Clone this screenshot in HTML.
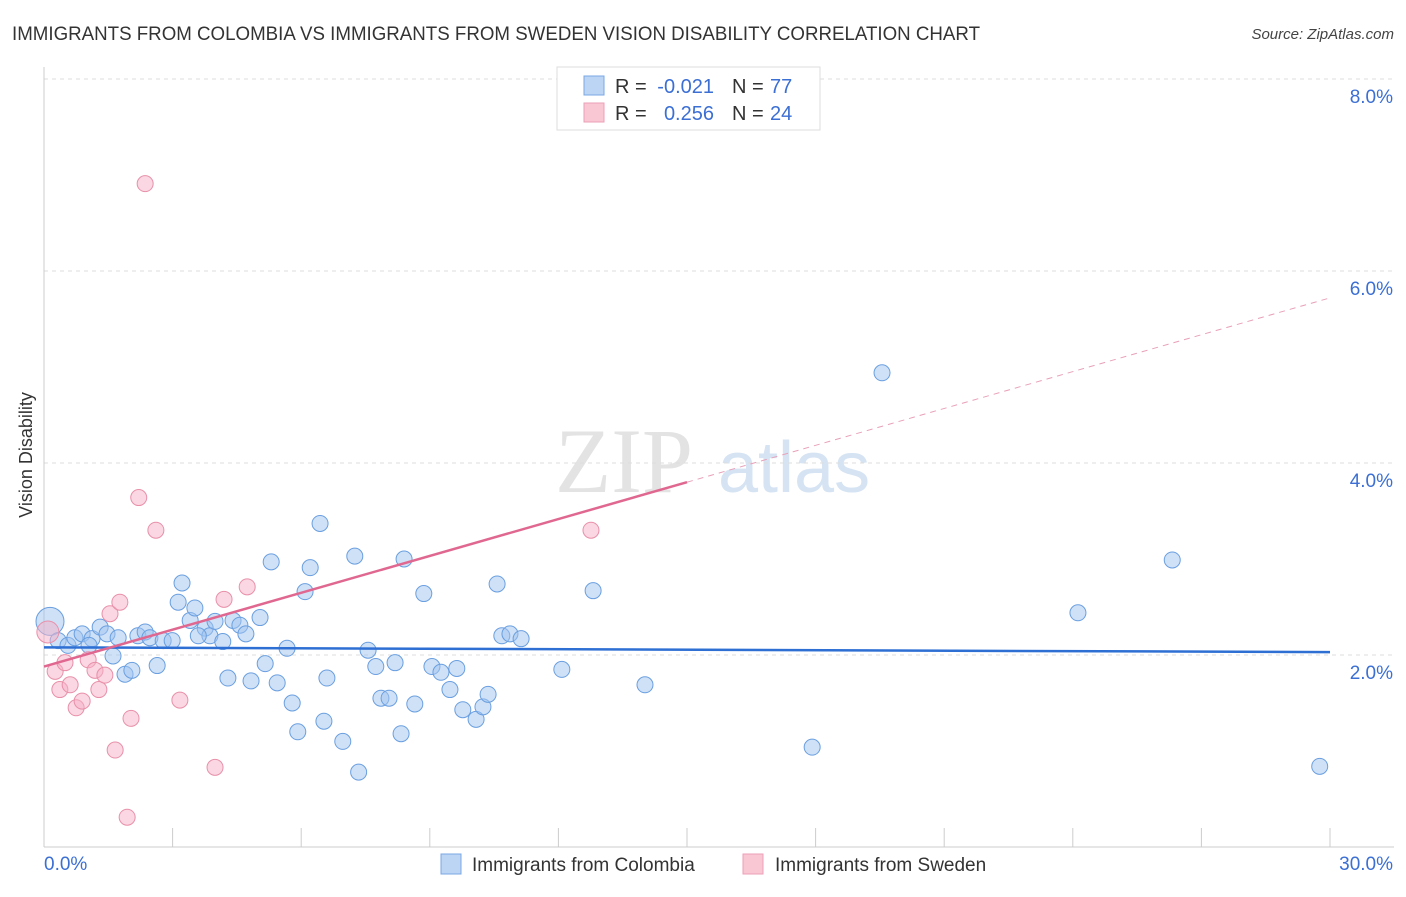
<!DOCTYPE html>
<html><head><meta charset="utf-8"><style>
body{margin:0;background:#fff;font-family:"Liberation Sans",sans-serif}
</style></head><body>
<svg id="c" width="1406" height="892" xmlns="http://www.w3.org/2000/svg">
<text x="12" y="40" font-size="19" fill="#333" textLength="968" lengthAdjust="spacingAndGlyphs">IMMIGRANTS FROM COLOMBIA VS IMMIGRANTS FROM SWEDEN VISION DISABILITY CORRELATION CHART</text>
<text x="1394" y="39" font-size="15" fill="#444" text-anchor="end" font-style="italic">Source: ZipAtlas.com</text>
<text x="32" y="455" font-size="18" fill="#333" text-anchor="middle" transform="rotate(-90 32 455)">Vision Disability</text>
<g><text x="555" y="492" font-size="92" fill="#e3e3e3" font-family="Liberation Serif,serif">ZIP</text><text x="718" y="492" font-size="72" fill="#d5e3f3">atlas</text></g>
<g id="grid"></g><g id="pts"></g><g id="trend"></g>
<g>
<rect x="557" y="67" width="263" height="63" fill="#fff" stroke="#ddd"/>
<rect x="584" y="76" width="20" height="19" fill="#bcd5f5" stroke="#7aa8e3"/>
<rect x="584" y="103" width="20" height="19" fill="#f9c6d4" stroke="#eba0b7"/>
<text x="615" y="93" font-size="20" fill="#333">R =</text>
<text x="714" y="93" font-size="20" fill="#3b6fd4" text-anchor="end">-0.021</text>
<text x="732" y="93" font-size="20" fill="#333">N =</text>
<text x="770" y="93" font-size="20" fill="#3b6fd4">77</text>
<text x="615" y="120" font-size="20" fill="#333">R =</text>
<text x="714" y="120" font-size="20" fill="#3b6fd4" text-anchor="end">0.256</text>
<text x="732" y="120" font-size="20" fill="#333">N =</text>
<text x="770" y="120" font-size="20" fill="#3b6fd4">24</text>
</g>
<g>
<rect x="441" y="854" width="20" height="20" fill="#bcd5f5" stroke="#7aa8e3"/>
<text x="472" y="871" font-size="19" fill="#333">Immigrants from Colombia</text>
<rect x="743" y="854" width="20" height="20" fill="#f9c6d4" stroke="#eba0b7"/>
<text x="775" y="871" font-size="19" fill="#333">Immigrants from Sweden</text>
</g>
</svg>
<script>
const yTicks=[2,4,6,8];
const xTickLabels=["0.0%","30.0%"];
const blueX=[0.14,0.33,0.56,0.72,0.89,1.12,1.31,1.47,1.61,1.73,1.89,2.05,2.19,2.36,2.47,2.64,2.78,2.99,3.13,3.22,3.41,3.52,3.76,3.87,3.99,4.17,4.29,4.41,4.57,4.71,4.83,5.04,5.16,5.3,5.44,5.67,5.79,5.92,6.09,6.21,6.44,6.53,6.6,6.97,7.25,7.34,7.56,7.74,7.86,8.05,8.19,8.33,8.4,8.65,8.86,9.05,9.26,9.47,9.63,9.77,10.08,10.24,10.36,10.57,10.68,10.87,11.13,12.08,12.81,14.02,17.92,19.55,24.12,26.32,29.76,1.05,3.6];
const blueY=[2.35,2.15,2.1,2.18,2.22,2.17,2.29,2.22,1.99,2.18,1.8,1.84,2.2,2.24,2.18,1.89,2.15,2.15,2.55,2.75,2.36,2.49,2.28,2.2,2.35,2.14,1.76,2.36,2.31,2.22,1.73,2.39,1.91,2.97,1.71,2.07,1.5,1.2,2.66,2.91,3.37,1.31,1.76,1.1,3.03,0.78,2.05,1.88,1.55,1.55,1.92,1.18,3,1.49,2.64,1.88,1.82,1.64,1.86,1.43,1.33,1.46,1.59,2.74,2.2,2.22,2.17,1.85,2.67,1.69,1.04,4.94,2.44,2.99,0.84,2.1,2.2];
const pinkX=[0.09,0.26,0.37,0.49,0.61,0.75,0.89,1.03,1.19,1.28,1.42,1.54,1.77,1.66,2.03,2.21,2.36,2.61,3.17,3.99,4.2,4.74,1.94,12.76];
const pinkY=[2.24,1.83,1.64,1.92,1.69,1.45,1.52,1.95,1.84,1.64,1.79,2.43,2.55,1.01,1.34,3.64,6.91,3.3,1.53,0.83,2.58,2.71,0.31,3.3];
const blueTrend=[2.08,2.03], pinkTrend=[1.88,5.72];
const X=v=>44+v*(1286/30), Y=v=>847-v*96;
const NS="http://www.w3.org/2000/svg";
function mk(t,a,p){const e=document.createElementNS(NS,t);for(const k in a)e.setAttribute(k,a[k]);p.appendChild(e);return e;}
const g=document.getElementById('grid');
yTicks.forEach(v=>{const l=mk('line',{x1:44,x2:1394,y1:Y(v),y2:Y(v),stroke:'#ddd','stroke-dasharray':'4,4'},g);


const t=mk('text',{x:1393,y:Y(v)+24,'font-size':19,fill:'#3b6fd4','text-anchor':'end'},g);t.textContent=v.toFixed(1)+'%';

});
mk('line',{x1:44,x2:44,y1:67,y2:847,stroke:'#ccc'},g);
mk('line',{x1:44,x2:1394,y1:847,y2:847,stroke:'#ccc'},g);
for(let i=0;i<=10;i++){mk('line',{x1:X(i*3),x2:X(i*3),y1:828,y2:847,stroke:'#ccc'},g);}
[[0,'start',44],[1,'end',1393]].forEach(([i,a,x])=>{const t=mk('text',{x:x,y:870,'font-size':19,fill:'#3b6fd4','text-anchor':a},g);t.textContent=xTickLabels[i];

});
const p=document.getElementById('pts');
blueX.forEach((x,i)=>{const c=mk('circle',{cx:X(x),cy:Y(blueY[i]),r:i==0?14:8,fill:'rgba(160,195,240,0.5)',stroke:'#6a9fe0','stroke-width':1},p);

});
pinkX.forEach((x,i)=>{const c=mk('circle',{cx:X(x),cy:Y(pinkY[i]),r:i==0?11:8,fill:'rgba(245,175,198,0.5)',stroke:'#e890aa','stroke-width':1},p);

});
const tr=document.getElementById('trend');
let l=mk('line',{x1:X(0),y1:Y(blueTrend[0]),x2:X(30),y2:Y(blueTrend[1]),stroke:'#2e6fd4','stroke-width':2.5},tr);


const py=x=>pinkTrend[0]+(pinkTrend[1]-pinkTrend[0])*x/30;
l=mk('line',{x1:X(0),y1:Y(py(0)),x2:X(15),y2:Y(py(15)),stroke:'#e06890','stroke-width':2.5},tr);


l=mk('line',{x1:X(15),y1:Y(py(15)),x2:X(30),y2:Y(py(30)),stroke:'#e8a0b8','stroke-width':1,'stroke-dasharray':'6,5'},tr);


</script>
</body></html>
